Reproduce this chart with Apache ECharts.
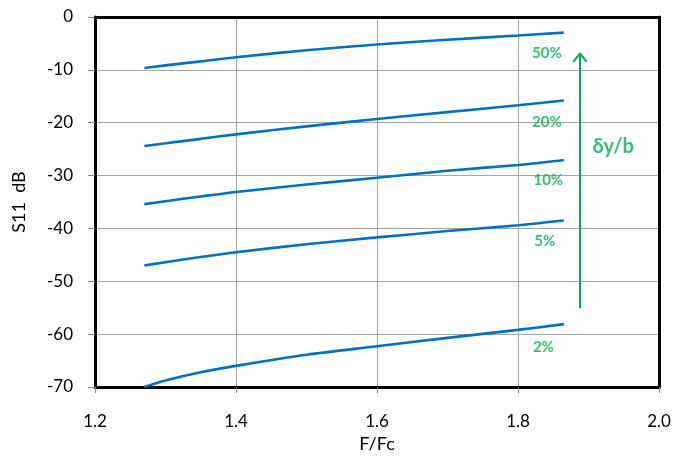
<!DOCTYPE html>
<html>
<head>
<meta charset="utf-8">
<script src="https://cdn.jsdelivr.net/npm/echarts@6/dist/echarts.min.js"></script>
<style>
  html, body { margin: 0; padding: 0; background: #fff; }
  #chart { width: 675px; height: 461px; }
</style>
</head>
<body>
<div id="chart"></div>
<script>
// Normalised frequency F/Fc and return loss S11 (dB) for several step ratios δy/b
const freq = [1.27, 1.3, 1.35, 1.4, 1.5, 1.6, 1.7, 1.8, 1.865];
const s11_50 = [-9.65, -9.15, -8.4, -7.6, -6.3, -5.2, -4.3, -3.5, -2.95];
const s11_20 = [-24.4, -23.9, -23.05, -22.2, -20.7, -19.3, -18.0, -16.7, -15.8];
const s11_10 = [-35.4, -34.85, -33.95, -33.1, -31.7, -30.4, -29.1, -28.0, -27.1];
const s11_5  = [-47.0, -46.4, -45.4, -44.5, -43.0, -41.7, -40.5, -39.4, -38.5];
const s11_2  = [-70.0, -68.75, -67.2, -66.0, -63.9, -62.3, -60.7, -59.2, -58.1];
const curveNames = ['50%', '20%', '10%', '5%', '2%'];
const curveValues = [s11_50, s11_20, s11_10, s11_5, s11_2];
// Where each percentage tag sits (F/Fc, dB)
const tagX = [1.841, 1.841, 1.843, 1.838, 1.836];
const tagY = [-6.9, -19.9, -30.9, -42.4, -62.4];
// Trend arrow for increasing δy/b and its caption
const arrowX = 1.888;
const arrowFrom = -55.1;
const arrowTo = -6.9;
const headHalfWidth = 0.0095;
const headLength = 1.6;
const captionPos = [1.935, -24.6];

const xTicks = { min: 1.2, max: 2.0, interval: 0.2 };
const yTicks = { min: -70, max: 0, interval: 10 };

const FONT = 'Lato';
const GREEN = '#00B050';
const BLUE = '#0070C0';

const chart = echarts.init(document.getElementById('chart'), null, { renderer: 'canvas' });

const lineSeries = curveValues.map((vals, i) => ({
  name: curveNames[i],
  type: 'line',
  data: freq.map((f, k) => [f, vals[k]]),
  smooth: 0.3,
  symbol: 'none',
  lineStyle: { color: BLUE, width: 2.6 },
  z: 3
}));

const tagSeries = {
  type: 'scatter',
  symbolSize: 0,
  data: tagX.map((x, i) => ({ value: [x, tagY[i]], name: curveNames[i] }))
    .concat([{ value: captionPos, name: 'δy/b', label: { fontSize: 20 } }]),
  label: {
    show: true,
    position: 'inside',
    formatter: p => p.name,
    color: GREEN,
    fontFamily: FONT,
    fontWeight: 'bold',
    fontSize: 15
  },
  z: 4
};

const arrowSeries = {
  type: 'line',
  data: [],
  markLine: {
    silent: true,
    symbol: ['none', 'none'],
    label: { show: false },
    lineStyle: { color: GREEN, width: 2, type: 'solid' },
    data: [
      [{ coord: [arrowX, arrowFrom] }, { coord: [arrowX, arrowTo] }],
      [{ coord: [arrowX - headHalfWidth, arrowTo - headLength] }, { coord: [arrowX, arrowTo] }],
      [{ coord: [arrowX + headHalfWidth, arrowTo - headLength] }, { coord: [arrowX, arrowTo] }]
    ]
  }
};

const axisLabelStyle = { color: '#000', fontFamily: FONT, fontSize: 17 };
const frameLine = { show: true, onZero: false, lineStyle: { color: '#000', width: 3 } };

chart.setOption({
  animation: false,
  backgroundColor: '#fff',
  grid: { left: 95, right: 16, top: 17, bottom: 74, containLabel: false },
  xAxis: [
    {
      type: 'value',
      min: xTicks.min, max: xTicks.max, interval: xTicks.interval,
      name: 'F/Fc', nameLocation: 'middle', nameGap: 48,
      nameTextStyle: { color: '#000', fontFamily: FONT, fontSize: 18 },
      axisLine: frameLine,
      axisTick: { show: true, length: 6, lineStyle: { color: '#888' } },
      axisLabel: Object.assign({ margin: 26, formatter: v => v.toFixed(1) }, axisLabelStyle),
      splitLine: { show: true, lineStyle: { color: '#A6A6A6', width: 1 } }
    },
    {
      type: 'value', position: 'top',
      min: xTicks.min, max: xTicks.max, interval: xTicks.interval,
      axisLine: frameLine, axisTick: { show: false }, axisLabel: { show: false },
      splitLine: { show: false }
    }
  ],
  yAxis: [
    {
      type: 'value',
      min: yTicks.min, max: yTicks.max, interval: yTicks.interval,
      name: 'S11  dB', nameLocation: 'middle', nameGap: 67, nameRotate: 90,
      nameTextStyle: { color: '#000', fontFamily: FONT, fontSize: 18 },
      axisLine: frameLine,
      axisTick: { show: true, length: 7, lineStyle: { color: '#888' } },
      axisLabel: Object.assign({ margin: 22 }, axisLabelStyle),
      splitLine: { show: true, lineStyle: { color: '#A6A6A6', width: 1 } }
    },
    {
      type: 'value', position: 'right',
      min: yTicks.min, max: yTicks.max, interval: yTicks.interval,
      axisLine: frameLine, axisTick: { show: false }, axisLabel: { show: false },
      splitLine: { show: false }
    }
  ],
  series: lineSeries.concat([tagSeries, arrowSeries])
});
</script>
</body>
</html>
